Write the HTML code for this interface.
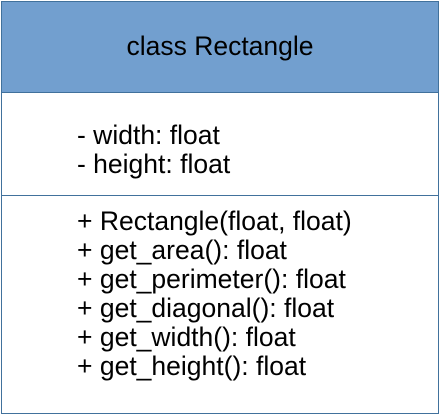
<!DOCTYPE html>
<html><head><style>
body{margin:0;width:440px;height:414px;background:#fff;font-family:"Liberation Sans",sans-serif;position:relative;overflow:hidden}
.box{position:absolute;left:1px;top:1px;width:436px;height:411px;border:1px solid #41719c;}
.hdr{position:absolute;left:2px;top:2px;width:436px;height:90px;background:#729fcf}
.ln{position:absolute;left:2px;width:436px;height:1px;background:#41719c}
.t{position:absolute;font-size:26.5px;line-height:29px;color:#000;white-space:pre}
</style></head><body>
<div class="hdr"></div>
<div class="box"></div>
<div class="ln" style="top:92px"></div>
<div class="ln" style="top:195px"></div>
<div class="t" style="left:0;width:440px;text-align:center;top:32px">class Rectangle</div>
<div class="t" style="left:77px;top:121px">- width: float
- height: float</div>
<div class="t" style="left:77px;top:207px">+ Rectangle(float, float)
+ get_area(): float
+ get_perimeter(): float
+ get_diagonal(): float
+ get_width(): float
+ get_height(): float</div>
</body></html>
